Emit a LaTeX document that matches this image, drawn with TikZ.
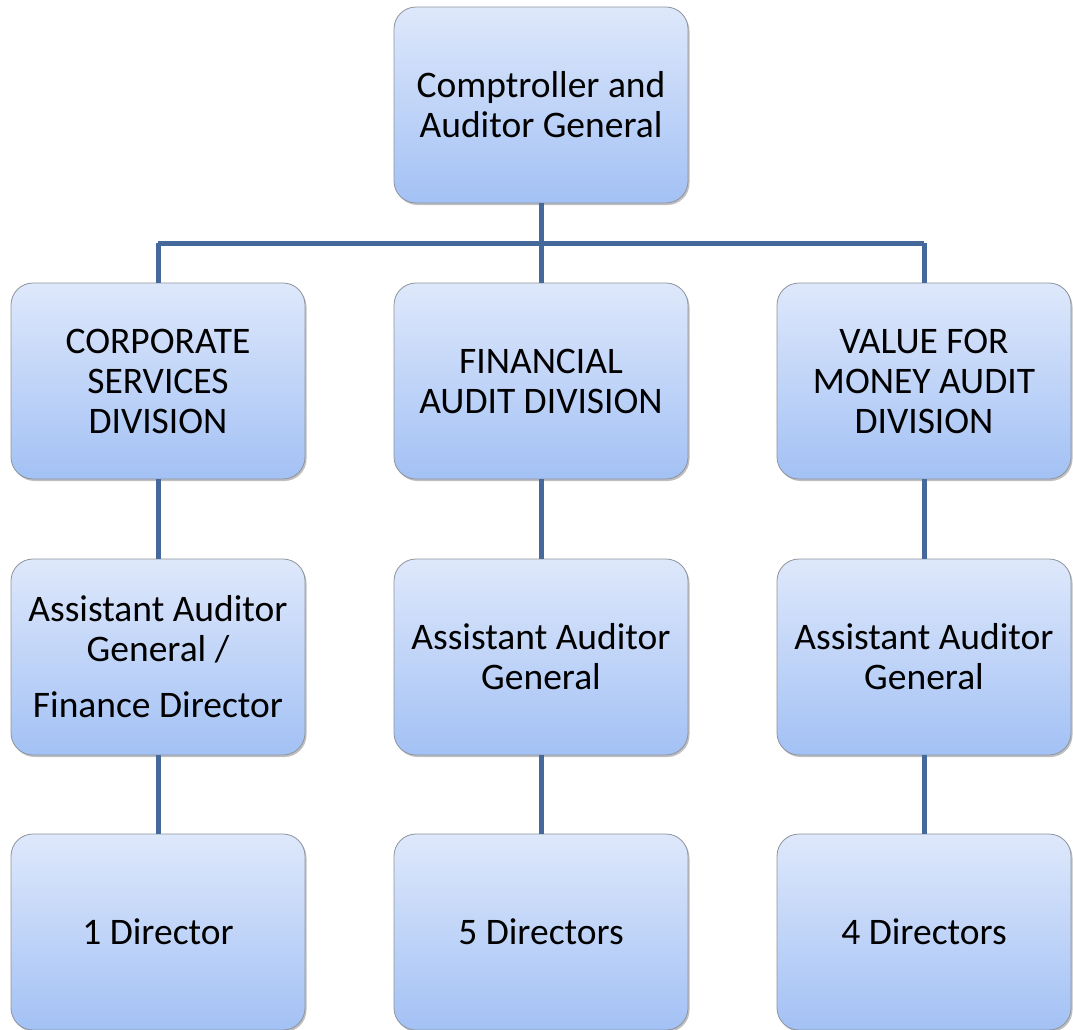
\documentclass[tikz,border=0pt]{standalone}
\usepackage{fontspec}
\setmainfont{Carlito}
\usetikzlibrary{shadows}
\definecolor{boxtop}{HTML}{DEE8FB}
\definecolor{boxbot}{HTML}{A3C1F5}
\definecolor{boxedge}{HTML}{8E949C}
\definecolor{linkc}{HTML}{44699A}
\tikzset{
  orgbox/.style={rounded corners=22pt, draw=boxedge, line width=0.8pt,
    top color=boxtop, bottom color=boxbot,
    minimum width=294pt, minimum height=196pt, align=center,
    font=\fontsize{37.5}{40}\selectfont, inner sep=0pt,
    drop shadow={shadow xshift=1.5pt, shadow yshift=-2pt, opacity=0.25, fill=black}},
  link/.style={draw=linkc, line width=5pt}
}
\begin{document}
\begin{tikzpicture}[x=1pt,y=-1pt]
\useasboundingbox (0,0) rectangle (1073,1030);
\coordinate (bus) at (541,243);
\coordinate (busL) at (158,243);
\coordinate (busR) at (924,243);
\node[orgbox] (cag) at (541,105) {Comptroller and\\Auditor General};
\node[orgbox] (csd) at (158,381) {CORPORATE\\SERVICES\\DIVISION};
\node[orgbox] (fad) at (541,381) {FINANCIAL\\AUDIT DIVISION};
\node[orgbox] (vfm) at (924,381) {VALUE FOR\\MONEY AUDIT\\DIVISION};
\node[orgbox] (aag1) at (158,657) {Assistant Auditor\\General /\\[16pt]Finance Director};
\node[orgbox] (aag2) at (541,657) {Assistant Auditor\\General};
\node[orgbox] (aag3) at (924,657) {Assistant Auditor\\General};
\node[orgbox] (d1) at (158,932) {1 Director};
\node[orgbox] (d2) at (541,932) {5 Directors};
\node[orgbox] (d3) at (924,932) {4 Directors};
\draw[link] (cag.south) -- (bus);
\draw[link] (busL) -- (busR);
\draw[link] (busL) -- (csd.north);
\draw[link] (bus) -- (fad.north);
\draw[link] (busR) -- (vfm.north);
\draw[link] (csd.south) -- (aag1.north);
\draw[link] (fad.south) -- (aag2.north);
\draw[link] (vfm.south) -- (aag3.north);
\draw[link] (aag1.south) -- (d1.north);
\draw[link] (aag2.south) -- (d2.north);
\draw[link] (aag3.south) -- (d3.north);
\end{tikzpicture}
\end{document}
